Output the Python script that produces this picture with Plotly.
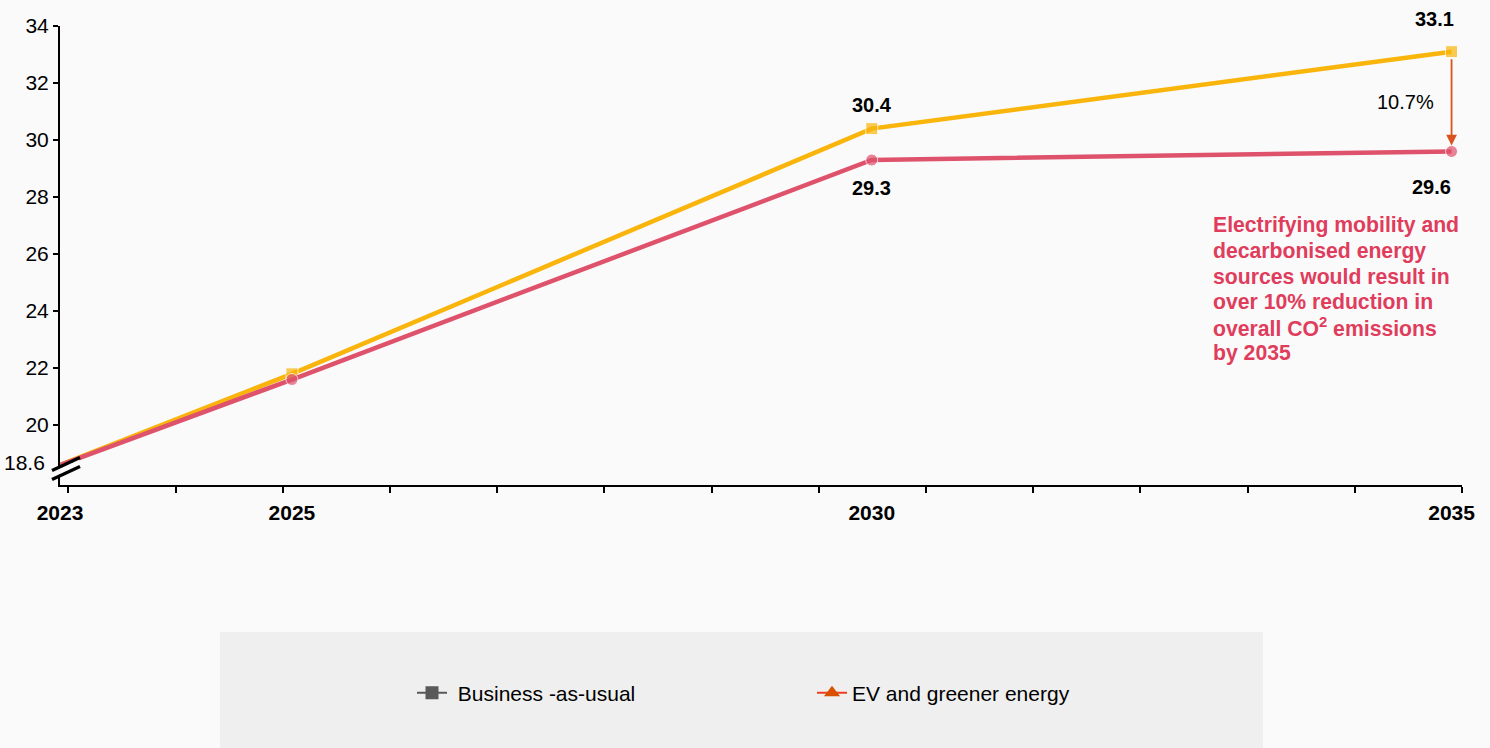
import plotly.graph_objects as go

# Projected CO2 emissions by scenario
years = [2023, 2025, 2030, 2035]
bau_values = [18.6, 21.8, 30.4, 33.1]
ev_values = [18.6, 21.6, 29.3, 29.6]
reduction_pct = 10.7
x_tick_labels = ["2023", "2025", "2030", "2035"]
y_tick_values = [20, 22, 24, 26, 28, 30, 32, 34]
callout_lines = [
    "Electrifying mobility and",
    "decarbonised energy",
    "sources would result in",
    "over 10% reduction in",
    "overall CO<sup>2</sup> emissions",
    "by 2035",
]

YELLOW = "#F9B50B"
PINK = "#DF526C"
CALLOUT = "#E03C5C"
ARROW = "#D9531E"
BG = "#FAFAFA"
FONT = "Liberation Sans, Arial, sans-serif"

X_RANGE = [2023, 2035.09]
Y_RANGE = [17.9, 34]

fig = go.Figure()

# Business-as-usual line (drawn first so the EV line sits on top)
fig.add_trace(go.Scatter(
    x=years, y=bau_values, mode="lines+markers",
    line=dict(color=YELLOW, width=4.5),
    marker=dict(symbol="square", size=[0, 12, 12, 12], color=YELLOW),
    showlegend=False, hoverinfo="x+y",
))
fig.add_trace(go.Scatter(
    x=years, y=ev_values, mode="lines+markers",
    line=dict(color=PINK, width=4.5),
    marker=dict(symbol="circle", size=[0, 12, 12, 12], color=PINK),
    showlegend=False, hoverinfo="x+y",
))

# Legend entries
fig.add_trace(go.Scatter(
    x=[None], y=[None], mode="lines+markers", name=" Business -as-usual",
    line=dict(color="#595959", width=2),
    marker=dict(symbol="square", size=13, color="#595959"),
))
fig.add_trace(go.Scatter(
    x=[None], y=[None], mode="lines+markers", name="EV and greener energy",
    line=dict(color="#F03C22", width=2),
    marker=dict(symbol="triangle-up", size=14, color="#D85000"),
))

annotations = []

def value_label(x, y, text, xshift=0, yshift=0):
    annotations.append(dict(
        x=x, y=y, xref="x", yref="y", text=f"<b>{text}</b>", showarrow=False,
        xshift=xshift, yshift=yshift,
        font=dict(family=FONT, size=20, color="#000000"),
    ))

value_label(years[2], bau_values[2], f"{bau_values[2]:.1f}", yshift=24)
value_label(years[2], ev_values[2], f"{ev_values[2]:.1f}", yshift=-28)
value_label(years[3], bau_values[3], f"{bau_values[3]:.1f}", xshift=-17, yshift=33)
value_label(years[3], ev_values[3], f"{ev_values[3]:.1f}", xshift=-20, yshift=-36)

# Starting value next to the axis break
annotations.append(dict(
    x=0, y=ev_values[0], xref="paper", yref="y", text=f"{ev_values[0]:.1f}",
    showarrow=False, xanchor="right", xshift=-13, yshift=3,
    font=dict(family=FONT, size=21, color="#000000"),
))

# Reduction arrow between the 2035 values
annotations.append(dict(
    x=years[3], y=ev_values[3], xref="x", yref="y",
    ax=years[3], ay=bau_values[3], axref="x", ayref="y",
    showarrow=True, arrowhead=2, arrowsize=1.2, arrowwidth=1.8,
    arrowcolor=ARROW, standoff=6, startstandoff=6, text="",
))
annotations.append(dict(
    x=years[3], y=(bau_values[3] + ev_values[3]) / 2, xref="x", yref="y",
    text=f"{reduction_pct:.1f}%", showarrow=False, xshift=-46, yshift=0,
    font=dict(family=FONT, size=20, color="#000000"),
))

# Callout text, one annotation per line for tight line spacing
for i, line in enumerate(callout_lines):
    annotations.append(dict(
        x=0.821, y=(485 - 225) / 459, xref="paper", yref="paper",
        xanchor="left", yanchor="middle", align="left", showarrow=False,
        yshift=-25.6 * i, text=f"<b>{line}</b>",
        font=dict(family=FONT, size=21.2, color=CALLOUT),
    ))

# Evenly spaced x-axis tick marks
n_ticks = 14
t_lo, t_hi = 2023.072, X_RANGE[1]
minor_ticks = [t_lo + i * (t_hi - t_lo) / (n_ticks - 1) for i in range(n_ticks)]

def px_to_paper(px, py):
    return (px - 60) / 1402, (485 - py) / 459

shapes = []
# Legend background panel
lx0, ly0 = px_to_paper(220, 632)
lx1, ly1 = px_to_paper(1263, 760)
shapes.append(dict(type="rect", xref="paper", yref="paper", x0=lx0, x1=lx1,
                   y0=ly1, y1=ly0, fillcolor="#EFEFEF", line=dict(width=0),
                   layer="below"))
# Axis break marker
bx0, by0 = px_to_paper(52, 475)
bx1, by1 = px_to_paper(80, 462)
shapes.append(dict(type="line", xref="paper", yref="paper", x0=bx0, y0=by0,
                   x1=bx1, y1=by1, line=dict(color=BG, width=6)))
for dy in (-4.5, 4.5):
    ax0, ay0 = px_to_paper(52, 475 + dy)
    ax1, ay1 = px_to_paper(80, 462 + dy)
    shapes.append(dict(type="line", xref="paper", yref="paper", x0=ax0, y0=ay0,
                       x1=ax1, y1=ay1, line=dict(color="#000000", width=3.2)))

fig.update_layout(
    width=1490, height=748,
    margin=dict(l=60, r=28, t=26, b=263),
    paper_bgcolor=BG, plot_bgcolor=BG,
    font=dict(family=FONT, size=21, color="#000000"),
    xaxis=dict(
        range=X_RANGE, showgrid=False, zeroline=False,
        showline=True, linecolor="#000000", linewidth=2,
        tickmode="array", tickvals=years,
        ticktext=[f"<b>{t}</b>" for t in x_tick_labels],
        ticks="", ticklabelstandoff=8,
        tickfont=dict(family=FONT, size=21, color="#000000"),
        minor=dict(tickmode="array", tickvals=minor_ticks, ticks="outside",
                   ticklen=6, tickwidth=1.5, tickcolor="#000000", showgrid=False),
    ),
    yaxis=dict(
        range=Y_RANGE, showgrid=False, zeroline=False,
        showline=True, linecolor="#000000", linewidth=2,
        tickmode="array", tickvals=y_tick_values,
        ticks="outside", ticklen=5, tickwidth=1.5, tickcolor="#000000",
        tickfont=dict(family=FONT, size=21, color="#000000"),
    ),
    showlegend=True,
    legend=dict(
        orientation="h", x=(412 - 60) / 1402, y=(485 - 693) / 459,
        xanchor="left", yanchor="middle", bgcolor="rgba(0,0,0,0)",
        entrywidth=355, entrywidthmode="pixels",
        font=dict(family=FONT, size=21, color="#000000"),
    ),
    annotations=annotations,
    shapes=shapes,
)

fig.write_html("out.html")
